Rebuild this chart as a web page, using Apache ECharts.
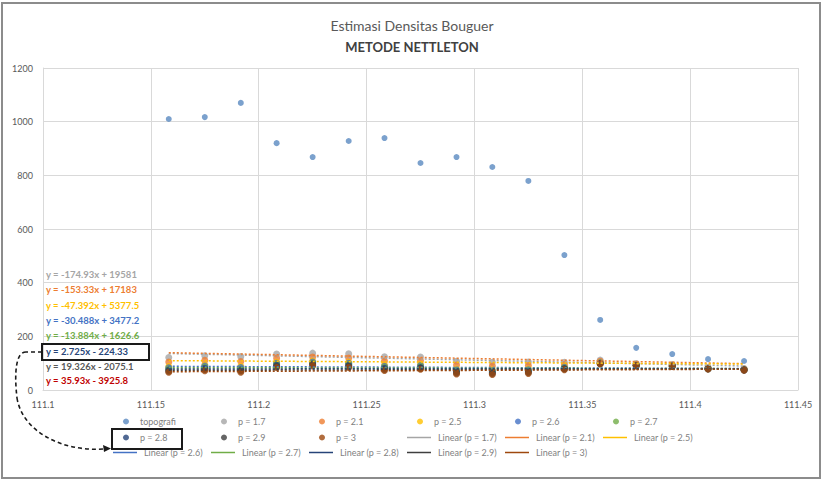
<!DOCTYPE html>
<html>
<head>
<meta charset="utf-8">
<script src="https://cdn.jsdelivr.net/npm/echarts@6/dist/echarts.min.js"></script>
<style>
  html, body { margin: 0; padding: 0; background: #fff; }
  #chart { width: 824px; height: 481px; }
</style>
</head>
<body>
<div id="chart"></div>
<script>
// Station longitudes (deg) along the profile
const longitudes = [111.1583, 111.1750, 111.1917, 111.2083, 111.2250, 111.2417, 111.2583, 111.2750,
  111.2917, 111.3083, 111.3250, 111.3417, 111.3583, 111.3750, 111.3917, 111.4083, 111.4250];

// Topography (m)
const topografi = [1010, 1017, 1070, 920, 868, 928, 939, 846, 868, 831, 779, 503, 261, 157, 134, 115, 108];

// Bouguer anomaly for each trial density
const densityNames = ['p = 1.7', 'p = 2.1', 'p = 2.5', 'p = 2.6', 'p = 2.7', 'p = 2.8', 'p = 2.9', 'p = 3'];
const p17 = [121.1, 127.4, 124.3, 134.2, 137.3, 134.6, 124.2, 123.1, 107.3, 103.3, 104.5, 103.4, 111.2, 98.6, 95.3, 84.3, 79.9];
const p21 = [104.1, 110.4, 106.4, 118.7, 122.8, 119.0, 108.4, 108.9, 92.8, 89.4, 91.4, 95.0, 106.8, 95.9, 93.1, 82.3, 78.1];
const p25 = [87.2, 93.3, 88.4, 103.3, 108.2, 103.5, 92.7, 94.7, 78.2, 75.4, 78.3, 86.5, 102.5, 93.3, 90.8, 80.4, 76.3];
const p26 = [82.9, 89.1, 84.0, 99.4, 104.6, 99.6, 88.8, 91.2, 74.6, 71.9, 75.1, 84.4, 101.4, 92.6, 90.2, 79.9, 75.8];
const p27 = [78.7, 84.8, 79.5, 95.6, 100.9, 95.7, 84.8, 87.6, 70.9, 68.5, 71.8, 82.3, 100.3, 92.0, 89.7, 79.4, 75.4];
const p28 = [74.5, 80.5, 75.0, 91.7, 97.3, 91.8, 80.9, 84.1, 67.3, 65.0, 68.5, 80.2, 99.2, 91.3, 89.1, 79.0, 74.9];
const p29 = [70.2, 76.3, 70.5, 87.9, 93.6, 87.9, 76.9, 80.5, 63.6, 61.5, 65.3, 78.1, 98.1, 90.7, 88.6, 78.5, 74.5];
const p30 = [66.0, 72.0, 66.0, 84.0, 90.0, 84.0, 73.0, 77.0, 60.0, 58.0, 62.0, 76.0, 97.0, 90.0, 88.0, 78.0, 74.0];
const densityValues = [p17, p21, p25, p26, p27, p28, p29, p30];

// Linear trend coefficients (y = slope*x + intercept) per density
const trendSlopes = [-174.93, -153.33, -47.392, -30.488, -13.884, 2.725, 19.326, 35.93];
const trendIntercepts = [19581, 17183, 5377.5, 3477.2, 1626.6, -224.33, -2075.1, -3925.8];

// Axis ticks
const xTicks = [111.1, 111.15, 111.2, 111.25, 111.3, 111.35, 111.4, 111.45];
const yTicks = [0, 200, 400, 600, 800, 1000, 1200];

const densityColors = ['#A5A5A5', '#ED7D31', '#FFC000', '#4472C4', '#70AD47', '#264478', '#3F3F3F', '#9E480E'];
const eqColors = ['#A5A5A5', '#ED7D31', '#FFC000', '#4472C4', '#70AD47', '#264478', '#595959', '#C00000'];
const FONT = 'Lato, "Open Sans", sans-serif';

const series = [];
series.push({
  name: 'topografi', type: 'scatter', symbol: 'circle', symbolSize: 6,
  itemStyle: { color: '#5A8AC0' },
  data: longitudes.map((x, i) => [x, topografi[i]]), z: 5
});
densityNames.forEach((nm, k) => {
  series.push({
    name: nm, type: 'scatter', symbol: 'circle', symbolSize: 7,
    itemStyle: { color: densityColors[k] },
    data: longitudes.map((x, i) => [x, densityValues[k][i]]), z: 3
  });
});
const trendNames = [];
densityNames.forEach((nm, k) => {
  const tn = 'Linear (' + nm + ')';
  trendNames.push(tn);
  const x0 = longitudes[0], x1 = longitudes[longitudes.length - 1];
  series.push({
    name: tn, type: 'line', symbol: 'none', silent: true,
    lineStyle: { color: densityColors[k], width: 1.5, type: [2, 2] },
    itemStyle: { color: densityColors[k] },
    data: [[x0, trendSlopes[k] * x0 + trendIntercepts[k]], [x1, trendSlopes[k] * x1 + trendIntercepts[k]]],
    z: 4
  });
});

function fmtNum(v) { return String(Math.abs(v)); }
const eqTexts = trendSlopes.map((s, k) => {
  const b = trendIntercepts[k];
  return 'y = ' + (s < 0 ? '-' : '') + fmtNum(s) + 'x ' + (b < 0 ? '- ' : '+ ') + fmtNum(b);
});

// Legend layout: 3 rows x 6 columns
const legendItems = ['topografi'].concat(densityNames, trendNames);
const colX = [123, 221, 319, 417, 515, 613];
const rowY = [417, 433, 448];
const legends = legendItems.map((nm, i) => {
  const row = Math.floor(i / 6), col = i % 6;
  const isLine = nm.indexOf('Linear') === 0;
  return {
    data: [isLine ? { name: nm, icon: 'rect' } : nm],
    left: isLine ? colX[col] - 10 : colX[col], top: rowY[row],
    padding: 0, itemGap: 0,
    itemWidth: isLine ? 24 : 6, itemHeight: isLine ? 1.5 : 6,
    textStyle: { fontSize: 9, color: '#7F7F7F', fontFamily: FONT, padding: [0, 0, 0, isLine ? 2 : 6] }
  };
});

const annot = { fill: null, stroke: '#1A1A1A', lineWidth: 1.6, lineDash: [4, 3] };
const graphics = [
  { type: 'rect', shape: { x: 2, y: 3, width: 818, height: 475 }, style: { fill: null, stroke: '#8C8C8C', lineWidth: 2 }, z: 100 },
  { type: 'rect', shape: { x: 42, y: 344, width: 107, height: 16 }, style: { fill: null, stroke: '#1A1A1A', lineWidth: 2 }, z: 100 },
  { type: 'rect', shape: { x: 112, y: 429, width: 70, height: 20 }, style: { fill: null, stroke: '#1A1A1A', lineWidth: 2 }, z: 100 },
  { type: 'line', shape: { x1: 42, y1: 352, x2: 26, y2: 352 }, style: annot, z: 100 },
  { type: 'bezierCurve', shape: { x1: 26, y1: 352, cpx1: 16, cpy1: 352, cpx2: 14, cpy2: 372, x2: 17, y2: 398 }, style: annot, z: 100 },
  { type: 'bezierCurve', shape: { x1: 17, y1: 398, cpx1: 22, cpy1: 430, cpx2: 60, cpy2: 452, x2: 104, y2: 449 }, style: annot, z: 100 },
  { type: 'polygon', shape: { points: [[111, 448.5], [103, 445], [104, 452]] }, style: { fill: '#1A1A1A' }, z: 100 }
];
const eqY = [275, 290, 306, 321, 336, 352, 367, 381];
eqTexts.forEach((t, k) => {
  graphics.push({
    type: 'text', x: 46, y: eqY[k] - 5.5, z: 101,
    style: { text: t, fill: eqColors[k], font: 'bold 9.5px ' + FONT }
  });
});

const chart = echarts.init(document.getElementById('chart'), null, { renderer: 'svg' });
chart.setOption({
  backgroundColor: '#fff',
  animation: false,
  title: [
    { text: 'Estimasi Densitas Bouguer', left: 'center', top: 13,
      textStyle: { fontSize: 14, fontWeight: 'normal', color: '#595959', fontFamily: FONT } },
    { text: 'METODE NETTLETON', left: 'center', top: 35,
      textStyle: { fontSize: 13, fontWeight: 'bold', color: '#404040', fontFamily: FONT } }
  ],
  grid: { left: 43, right: 26, top: 68, bottom: 91 },
  xAxis: {
    type: 'value', min: xTicks[0], max: xTicks[xTicks.length - 1], interval: 0.05,
    axisLine: { lineStyle: { color: '#D9D9D9' } },
    axisTick: { show: false },
    splitLine: { show: true, lineStyle: { color: '#D9D9D9' } },
    axisLabel: { color: '#595959', fontSize: 9, fontFamily: FONT, margin: 10,
      formatter: v => String(parseFloat(v.toFixed(2))) }
  },
  yAxis: {
    type: 'value', min: yTicks[0], max: yTicks[yTicks.length - 1], interval: 200,
    axisLine: { show: true, lineStyle: { color: '#D9D9D9' } },
    axisTick: { show: false },
    splitLine: { show: true, lineStyle: { color: '#D9D9D9' } },
    axisLabel: { color: '#595959', fontSize: 9, fontFamily: FONT, margin: 10,
      formatter: v => String(v) }
  },
  legend: legends,
  series: series,
  graphic: graphics
});
</script>
</body>
</html>
